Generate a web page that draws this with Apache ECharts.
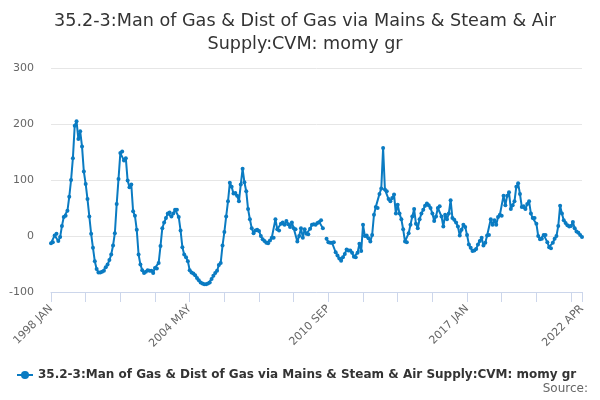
<!DOCTYPE html>
<html>
<head>
<meta charset="utf-8">
<script src="https://cdn.jsdelivr.net/npm/echarts@6/dist/echarts.min.js"></script>
<style>
  html, body { margin: 0; padding: 0; background: #fff; }
  #chart { width: 600px; height: 400px; }
</style>
</head>
<body>
<div id="chart"></div>
<script>
const titleText = '35.2-3:Man of Gas & Dist of Gas via Mains & Steam & Air\nSupply:CVM: momy gr';
const seriesName = '35.2-3:Man of Gas & Dist of Gas via Mains & Steam & Air Supply:CVM: momy gr';
const monthNames = ['JAN', 'FEB', 'MAR', 'APR', 'MAY', 'JUN', 'JUL', 'AUG', 'SEP', 'OCT', 'NOV', 'DEC'];

// monthly categories, 1998 JAN .. 2022 APR
const months = function () {
  const data = [];
  for (let y = 1998; y <= 2022; y++) {
    for (let m = 0; m < 12; m++) {
      if (y === 2022 && m > 3) break;
      data.push(y + ' ' + monthNames[m]);
    }
  }
  return data;
}();

// momy growth (null = gap in the line)
const values = [
  -13, -11, 1, 4, -9, -2, 18, 34, 36, 45,
  70, 100, 139, 197, 205, 173, 187, 160, 115, 93,
  66, 35, 4, -21, -45, -59, -65, -65, -64, -62,
  -56, -51, -43, -33, -17, 5, 57, 102, 148, 151,
  135, 139, 99, 87, 92, 44, 36, 11, -33, -51,
  -61, -66, -64, -61, -62, -62, -66, -57, -58, -48,
  -18, 14, 24, 32, 40, 42, 35, 40, 47, 47,
  34, 10, -20, -33, -38, -45, -61, -65, -67, -70,
  -75, -79, -83, -85, -86, -86, -85, -83, -77, -71,
  -66, -62, -52, -48, -17, 7, 35, 62, 95, 88,
  76, 77, 72, 62, 92, 120, 96, 80, 48, 30,
  14, 5, 10, 11, 9, 0, -6, -9, -12, -13,
  -8, -3, -3, 30, 12, 10, 22, 24, 20, 27,
  21, 16, 24, 14, 12, -10, 0, 14, -3, 12,
  4, 3, 13, 20, 21, 20, 23, 25, 28, 14,
  null, -5, -11, -12, -12, -11, -29, -35, -40, -44,
  -38, -32, -24, -26, -26, -30, -37, -38, -30, -14,
  -27, 20, 0, 1, -4, -10, 2, 38, 52, 50,
  75, 85, 157, 83, 80, 66, 62, 68, 74, 40,
  56, 40, 30, 12, -10, -11, 5, 20, 35, 48,
  22, 14, 30, 40, 47, 54, 58, 55, 50, 40,
  27, 35, 50, 53, 35, 17, 38, 30, 40, 64,
  32, 29, 24, 17, 1, 11, 20, 16, 2, -15,
  -21, -27, -26, -23, -15, -9, -3, -17, -12, 1,
  2, 30, 20, 28, 20, 34, 38, 36, 72, 55,
  72, 78, 48, 55, 62, 88, 94, 75, 52, 53,
  48, 57, 62, 40, 32, 32, 22, 0, -6, -5,
  2, 2, -11, -20, -22, -12, -5, 0, 18, 54,
  40, 28, 23, 19, 17, 18, 25, 14, 8, 6,
  2, -2
];

const yTicks = [-100, 0, 100, 200, 300];
const tickStep = 19;   // a tick every 19 months
const labelStep = 76;  // a label every 4th tick
const lastIndex = months.length - 1;

const myChart = echarts.init(document.getElementById('chart'));
const font = 'DejaVu Sans';
const option = {
  animation: false,
  textStyle: { fontFamily: font },
  title: [
    {
      text: titleText,
      left: 300,
      top: 5,
      textAlign: 'center',
      textStyle: {
        fontFamily: font,
        fontSize: 17.6,
        fontWeight: 'normal',
        color: '#333333',
        lineHeight: 23,
      }
    }, {
      text: 'Source:',
      right: 7,
      top: 378,
      textStyle: {
        fontFamily: font,
        fontSize: 12,
        fontWeight: 'normal',
        color: '#666666',
      }
    }
  ],
  legend: {
    left: 11,
    top: 364,
    itemWidth: 16,
    itemHeight: 10,
    itemGap: 4,
    textStyle: {
      fontFamily: font,
      fontSize: 12,
      fontWeight: 'bold',
      color: '#333333',
    },
    data: [seriesName],
  },
  grid: {
    left: 51,
    right: 18,
    top: 68,
    bottom: 108,
    containLabel: false,
  },
  xAxis: {
    type: 'category',
    boundaryGap: false,
    data: months,
    axisLine: { onZero: false, lineStyle: { color: '#ccd6eb', width: 1 } },
    axisTick: {
      length: 10,
      interval: (i) => i % tickStep === 0 || i === lastIndex,
      lineStyle: { color: '#ccd6eb' },
    },
    axisLabel: {
      interval: (i) => i % labelStep === 0 || i === lastIndex,
      rotate: 45,
      margin: 15,
      fontFamily: font,
      fontSize: 11,
      color: '#666666',
    },
    splitLine: { show: false },
  },
  yAxis: {
    type: 'value',
    min: yTicks[0],
    max: yTicks[yTicks.length - 1],
    interval: 100,
    axisLine: { show: false },
    axisTick: { show: false },
    axisLabel: {
      margin: 17,
      fontFamily: font,
      fontSize: 11,
      color: '#666666',
    },
    splitLine: { lineStyle: { color: '#e6e6e6', width: 1 } },
  },
  series: [
    {
      name: seriesName,
      type: 'line',
      data: values,
      connectNulls: false,
      symbol: 'circle',
      symbolSize: 4,
      showSymbol: true,
      showAllSymbol: true,
      itemStyle: { color: '#0a7bc2' },
      lineStyle: { width: 2, color: '#0a7bc2' },
    }
  ]
};
myChart.setOption(option);
</script>
</body>
</html>
